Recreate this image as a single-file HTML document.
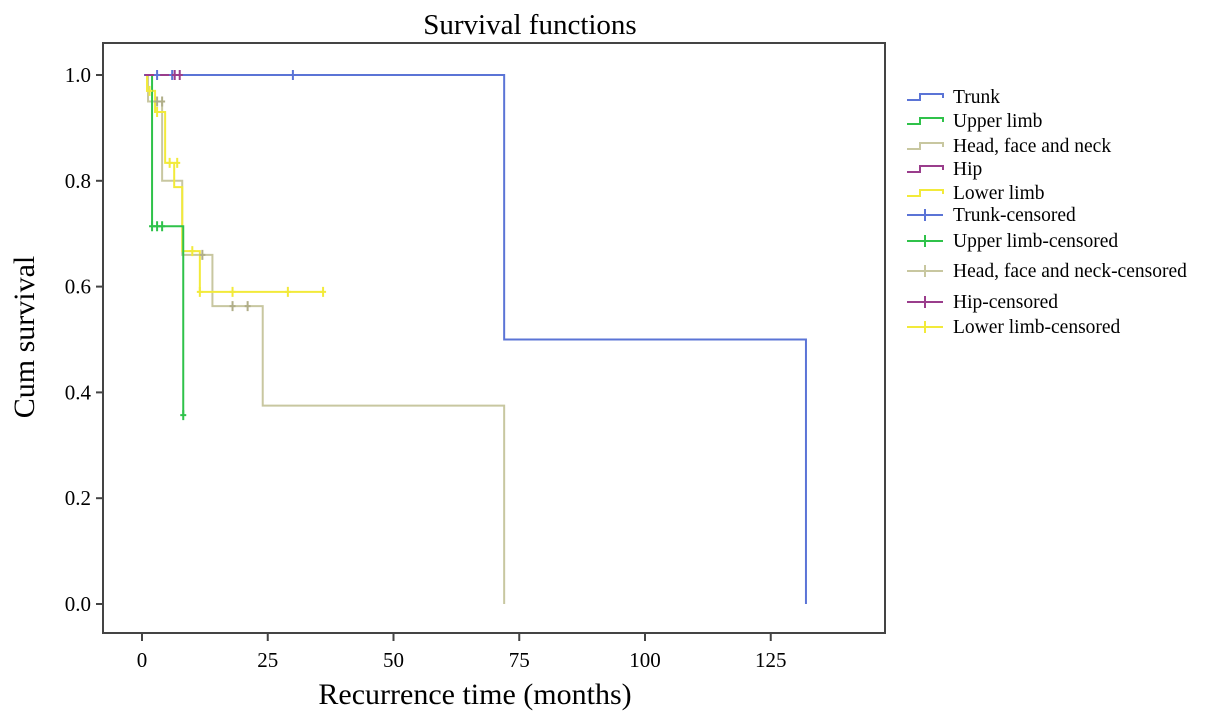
<!DOCTYPE html>
<html><head><meta charset="utf-8"><style>
body{margin:0;background:#fff;}
svg{display:block;font-family:"Liberation Serif",serif;}
</style></head><body>
<svg id="c" width="1205" height="724">
<text x="530" y="34" font-size="29" text-anchor="middle">Survival functions</text>
<rect x="103" y="43" width="782" height="590" fill="none" stroke="#444" stroke-width="2"/>
<text transform="translate(34,337) rotate(-90)" font-size="30" text-anchor="middle">Cum survival</text>
<text x="475" y="704" font-size="30" text-anchor="middle">Recurrence time (months)</text>
<g id="axes"></g><g id="series"></g><g id="legend"></g>
</svg>
<script>
const xTicks=[0,25,50,75,100,125];
const yTicks=[0,0.2,0.4,0.6,0.8,1.0];
const seriesNames=["Trunk","Upper limb","Head, face and neck","Hip","Lower limb"];
const seriesColors=["#5b74d6","#2fc24a","#c8c7a0","#9a3d8c","#f2ea3a"];
const trunkT=[0.4,72,132];const trunkS=[1,0.5,0];
const trunkCT=[3,6,30];const trunkCS=[1,1,1];
const upperT=[1,2,8.2];const upperS=[1,0.714,0.357];
const upperCT=[2,3,4,8.2];const upperCS=[0.714,0.714,0.714,0.357];
const headT=[0.5,1.2,4,8,14,24,72];const headS=[1,0.95,0.80,0.66,0.563,0.375,0];
const headCT=[3,4,12,18,21];const headCS=[0.95,0.95,0.66,0.563,0.563];
const hipT=[0.5,7];const hipS=[1,1];
const hipCT=[6.5,7.5];const hipCS=[1,1];
const lowerT=[0.5,1,2.6,4.6,6.4,8,11.5];const lowerS=[1,0.97,0.93,0.834,0.788,0.667,0.59];const lowerEnd=36;
const lowerCT=[1.5,3,5.5,7,10,11.5,18,29,36];const lowerCS=[0.97,0.93,0.834,0.834,0.667,0.59,0.59,0.59,0.59];
const X=t=>142+t*5.03, Y=s=>604-s*529;
const NS="http://www.w3.org/2000/svg";
function mk(tag,attrs,parent){const e=document.createElementNS(NS,tag);for(const k in attrs)e.setAttribute(k,attrs[k]);parent.appendChild(e);return e;}
const ax=document.getElementById('axes');
xTicks.forEach(v=>{
 const l=mk('line',{x1:X(v),x2:X(v),y1:633,y2:641,stroke:'#444','stroke-width':2},ax);
 
 
 const t=mk('text',{x:X(v),y:667,'font-size':21,'text-anchor':'middle'},ax);t.textContent=v;
 
 
});
yTicks.forEach(v=>{
 const l=mk('line',{x1:96,x2:103,y1:Y(v),y2:Y(v),stroke:'#444','stroke-width':2},ax);
 
 
 const t=mk('text',{x:91,y:Y(v)+7,'font-size':21,'text-anchor':'end'},ax);t.textContent=v.toFixed(1);
 
 
});
const sg=document.getElementById('series');
function step(T,S,end,color,name){
 let d='M'+X(T[0])+','+Y(S[0]);
 for(let i=1;i<T.length;i++){d+=' H'+X(T[i])+' V'+Y(S[i]);}
 if(end!==undefined)d+=' H'+X(end);
 const p=mk('path',{d:d,fill:'none',stroke:color,'stroke-width':2},sg);
 
 
}
function cens(T,S,color,name){
 T.forEach((t,i)=>{
  const l=mk('path',{d:'M'+X(t)+','+(Y(S[i])-5)+' v10 M'+(X(t)-3)+','+Y(S[i])+' h6',stroke:color,'stroke-width':2,fill:'none'},sg);
  
  
 });
}
step(headT,headS,undefined,seriesColors[2],'head-face-neck-curve');
step(lowerT,lowerS,lowerEnd,seriesColors[4],'lower-limb-curve');
step(trunkT,trunkS,undefined,seriesColors[0],'trunk-curve');
step(upperT,upperS,undefined,seriesColors[1],'upper-limb-curve');
step(hipT,hipS,undefined,seriesColors[3],'hip-curve');
cens(headCT,headCS,'#b0ae88','head-face-neck-censored-mark');
cens(lowerCT,lowerCS,seriesColors[4],'lower-limb-censored-mark');
cens(trunkCT,trunkCS,seriesColors[0],'trunk-censored-mark');
cens(upperCT,upperCS,seriesColors[1],'upper-limb-censored-mark');
cens(hipCT,hipCS,seriesColors[3],'hip-censored-mark');
const lg=document.getElementById('legend');
const legY=[97,121,146,169,193,215,241,271,302,327];
for(let i=0;i<10;i++){
 const ci=i%5, y=legY[i], c=seriesColors[ci];
 const g=mk('g',{},lg);
 
 
 if(i<5){mk('path',{d:'M907,'+(y+3)+' H920 V'+(y-3)+' H943 V'+(y+1),fill:'none',stroke:c,'stroke-width':2},g);}
 else{mk('path',{d:'M907,'+y+' H943 M925,'+(y-6)+' v12',fill:'none',stroke:c,'stroke-width':2},g);}
 const t=mk('text',{x:953,y:y+6,'font-size':19.5},g);
 t.textContent=seriesNames[ci]+(i<5?'':'-censored');
}
</script>
</body></html>
